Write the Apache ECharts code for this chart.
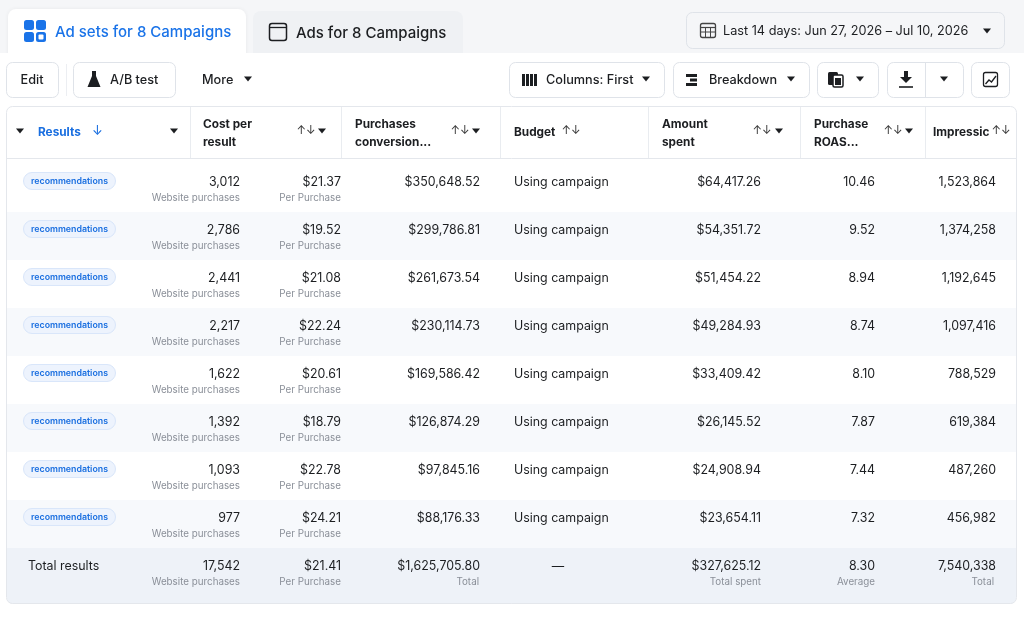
<!DOCTYPE html>
<html><head><meta charset="utf-8">
<script src="https://cdn.jsdelivr.net/npm/echarts@6/dist/echarts.min.js"></script>
<style>html,body{margin:0;padding:0;background:#fff}#c{width:1024px;height:617px}</style>
</head><body><div id="c"></div>
<script>
// ---- data ----
const rowLabels = ['recommendations','recommendations','recommendations','recommendations','recommendations','recommendations','recommendations','recommendations'];
const results = [3012, 2786, 2441, 2217, 1622, 1392, 1093, 977];
const costPerResult = [21.37, 19.52, 21.08, 22.24, 20.61, 18.79, 22.78, 24.21];
const purchasesValue = [350648.52, 299786.81, 261673.54, 230114.73, 169586.42, 126874.29, 97845.16, 88176.33];
const budgetText = ['Using campaign','Using campaign','Using campaign','Using campaign','Using campaign','Using campaign','Using campaign','Using campaign'];
const amountSpent = [64417.26, 54351.72, 51454.22, 49284.93, 33409.42, 26145.52, 24908.94, 23654.11];
const purchaseRoas = [10.46, 9.52, 8.94, 8.74, 8.10, 7.87, 7.44, 7.32];
const impressions = [1523864, 1374258, 1192645, 1097416, 788529, 619384, 487260, 456982];
const totalRow = {label:'Total results', results:17542, cost:21.41, purchases:1625705.80, budget:'—', amount:327625.12, roas:8.30, impressions:7540338};
const headers = [['Results'],['Cost per','result'],['Purchases','conversion...'],['Budget'],['Amount','spent'],['Purchase','ROAS...'],['Impressic']];
const subLabels = {results:'Website purchases', cost:'Per Purchase', purchases:'Total', amount:'Total spent', roas:'Average', impressions:'Total'};

// ---- helpers ----
const FONT = 'Inter, "Noto Sans", sans-serif';
const DARK = '#1c1e21', GREY = '#8a8f98', BLUE = '#1a6fe0', BORDER = '#dfe3e9';
const fmtInt = v => v.toLocaleString('en-US');
const fmtMoney = v => '$' + v.toLocaleString('en-US',{minimumFractionDigits:2, maximumFractionDigits:2});
const fmt2 = v => v.toFixed(2);
function T(text, x, y, o){ o=o||{}; return {type:'text', z:o.z||10, style:{text, x, y, fill:o.c||DARK, font:(o.w||400)+' '+(o.s||13)+'px '+FONT, align:o.a||'left', verticalAlign:'middle'}}; }
function R(x,y,w,h,o){ o=o||{}; return {type:'rect', z:o.z||1, shape:{x,y,width:w,height:h,r:o.r||0}, style:{fill:o.fill||'none', stroke:o.stroke||null, lineWidth:o.lw||1, shadowBlur:o.sb||0, shadowColor:o.sc||'transparent', shadowOffsetY:o.sy||0}}; }
function tri(cx, cy, c){ return {type:'polygon', z:10, shape:{points:[[cx-4,cy-2.5],[cx+4,cy-2.5],[cx,cy+2.5]]}, style:{fill:c||DARK}}; }
function L(x1,y1,x2,y2,c,lw,z){ return {type:'line', z:z||3, shape:{x1,y1,x2,y2}, style:{stroke:c||BORDER, lineWidth:lw||1}}; }

const g = [];
// page top background
g.push(R(0,0,1024,53,{fill:'#f5f6f8',z:0}));
// tabs
g.push(R(8,9,238,50,{fill:'#ffffff',r:[8,8,0,0],z:1,sb:4,sc:'rgba(0,0,0,0.06)'}));
g.push(R(253,11,210,45,{fill:'#eff1f4',r:[8,8,0,0],z:1}));
g.push(R(0,53,1024,564,{fill:'#ffffff',z:2}));
// ad sets icon
[[24,20],[36,20],[24,32],[36,32]].forEach(p=>g.push(R(p[0],p[1],10,10,{fill:'#1a73e8',r:2.5,z:5})));
g.push(R(38.5,34.5,5,5,{fill:'#ffffff',r:1,z:6}));
g.push(T('Ad sets for 8 Campaigns',55,32,{c:'#1a73e8',s:15,w:500}));
// ads window icon
g.push(R(269.5,23.5,17,17,{stroke:DARK,lw:1.5,r:2.5,z:5}));
g.push(L(270,27.5,286,27.5,DARK,1.3,5));
g.push(T('Ads for 8 Campaigns',296,33,{s:15,w:500}));
// date button
g.push(R(686.5,12.5,318,36,{fill:'#f5f6f8',stroke:BORDER,r:6,z:3}));
g.push(R(700.5,23.5,15,14,{stroke:'#444',lw:1.3,r:2,z:5}));
g.push(L(701,27.5,715,27.5,'#444',1.2,5));
g.push(L(701,32,715,32,'#444',1,5));
g.push(L(705.5,28,705.5,37,'#444',1,5));
g.push(L(710.5,28,710.5,37,'#444',1,5));
g.push(T('Last 14 days: Jun 27, 2026 – Jul 10, 2026',723,31,{s:12.7}));
g.push(tri(987,31));
// toolbar
const TB = 12.7;
function btn(x,w){ g.push(R(x+0.5,62.5,w,35,{fill:'#fff',stroke:BORDER,r:6,z:3})); }
btn(6,52); g.push(T('Edit',32,80,{s:TB,a:'center',w:500}));
g.push(L(66.5,64,66.5,96,'#eceef2',1,3));
btn(73,102);
g.push({type:'polygon',z:10,shape:{points:[[92,71],[96,71],[96,76],[100.5,87],[87.5,87],[92,76]]},style:{fill:DARK}});
g.push(T('A/B test',110,80,{s:TB,w:500}));
g.push(T('More',202,80,{s:TB,w:500}));
g.push(tri(248,79));
btn(509,155);
[522,526,530,534].forEach(x=>g.push(R(x,74,3,12,{fill:DARK,z:6})));
g.push(T('Columns: First',546,80,{s:TB,w:500}));
g.push(tri(646,79));
btn(673,136);
g.push(R(686,74,11,3,{fill:DARK,z:6}));
g.push(R(690,78.5,7,3,{fill:DARK,z:6}));
g.push(R(686,83,11,3,{fill:DARK,z:6}));
g.push(T('Breakdown',709,80,{s:TB,w:500}));
g.push(tri(791,79));
btn(817,61);
g.push(R(828,72,10,13,{fill:DARK,r:1.5,z:6}));
g.push(R(833,75,10,12,{fill:'#fff',stroke:DARK,lw:1.5,r:1.5,z:7}));
g.push(R(835,78,6,7,{fill:DARK,z:8}));
g.push(tri(860,79));
btn(887,76);
g.push(L(925.5,63,925.5,97,BORDER,1,4));
g.push(R(904,71,4,7,{fill:DARK,z:6}));
g.push({type:'polygon',z:6,shape:{points:[[900,77],[912,77],[906,83]]},style:{fill:DARK}});
g.push(L(899,87,913,87,DARK,1.6,6));
g.push(tri(944,79));
btn(971,38);
g.push(R(983.5,72.5,14,14,{stroke:DARK,lw:1.3,r:2,z:6}));
g.push({type:'polyline',z:6,shape:{points:[[985.5,84],[989,80],[991.5,82],[996,76]]},style:{stroke:DARK,lineWidth:1.3,fill:'none'}});

// table panel
g.push(R(6.5,106.5,1010,497,{fill:'#fff',z:2,r:6}));
g.push(R(6.5,106.5,1010,497,{stroke:'#e4e7ec',z:20,r:6}));
g.push(L(7,158.5,1016,158.5,'#e4e7ec',1,20));
[190,341,500,648,800,925].forEach(x=>g.push(L(x+0.5,107,x+0.5,158,'#e9ecf0',1,20)));
// headers
const HW = 700, HS = 11.8;
g.push(tri(20,131));
g.push(T(headers[0][0],38,132,{c:BLUE,w:HW,s:HS}));
g.push(T('↓',92,131,{c:BLUE,s:13}));
g.push(tri(174,131));
const hdrCols = [[203,306,322],[355,460,476],[514,571,null],[662,762,779],[814,893,909],[933,1001,null]];
hdrCols.forEach((c,k)=>{
  const h = headers[k+1];
  if(h.length===2){ g.push(T(h[0],c[0],124,{w:HW,s:HS})); g.push(T(h[1],c[0],142,{w:HW,s:HS})); }
  else g.push(T(h[0],c[0],132,{w:HW,s:HS}));
  g.push(T('↑↓',c[1],131,{a:'center',s:11.5,c:'#333'}));
  if(c[2]) g.push(tri(c[2],131));
});

// ---- series ----
const cats = rowLabels.map((r,i)=>'row'+(i+1)).concat(['total']);
const seriesData = cats.map((c,i)=> i<8 ?
  {value:[0,c,results[i],costPerResult[i],purchasesValue[i],amountSpent[i],purchaseRoas[i],impressions[i]]} :
  {value:[0,c,totalRow.results,totalRow.cost,totalRow.purchases,totalRow.amount,totalRow.roas,totalRow.impressions]});

const VS = 12.4, SS = 9.8;
function renderItem(params, api){
  const i = params.dataIndex;
  const yc = api.coord([0, i])[1];
  const h = api.size([0, 1])[1];
  let top = yc - h/2;
  const isTotal = i === 8;
  const ch = [];
  const vy = top + 18, sy = top + 34;
  let bgTop = top, bgH = h;
  if(i===0){ bgTop = 159; bgH = top + h - 159; }
  if(isTotal){ bgH = h + 8; }
  ch.push({type:'rect', shape:{x:7,y:bgTop,width:1009,height:bgH,r:isTotal?[0,0,6,6]:0}, style:{fill: isTotal ? '#eef2f8' : (i%2 ? '#f7f9fc' : '#ffffff')}});
  const txt = (s,x,y,o)=>({type:'text', style:{text:s,x,y,fill:o.c||DARK,font:(o.w||400)+' '+(o.s||VS)+'px '+FONT,align:o.a||'right',verticalAlign:'middle'}});
  if(!isTotal){
    ch.push({type:'rect', shape:{x:23.5,y:vy-9.5,width:92,height:17,r:8.5}, style:{fill:'#edf3fd',stroke:'#d9e6fa',lineWidth:1}});
    ch.push(txt(rowLabels[i],69.5,vy-1,{a:'center',s:8.8,w:600,c:BLUE}));
    ch.push(txt(budgetText[i],514,vy,{a:'left'}));
  } else {
    ch.push(txt(totalRow.label,28,vy,{a:'left'}));
    ch.push(txt(totalRow.budget,558,vy,{a:'center'}));
  }
  ch.push(txt(fmtInt(api.value(2)),240,vy,{}));
  ch.push(txt(subLabels.results,240,sy,{s:SS,c:GREY}));
  ch.push(txt(fmtMoney(api.value(3)),341,vy,{}));
  ch.push(txt(subLabels.cost,341,sy,{s:SS,c:GREY}));
  ch.push(txt(fmtMoney(api.value(4)),480,vy,{}));
  ch.push(txt(fmtMoney(api.value(5)),761,vy,{}));
  ch.push(txt(fmt2(api.value(6)),875,vy,{}));
  ch.push(txt(fmtInt(api.value(7)),996,vy,{}));
  if(isTotal){
    ch.push(txt(subLabels.purchases,479,sy,{s:SS,c:GREY}));
    ch.push(txt(subLabels.amount,761,sy,{s:SS,c:GREY}));
    ch.push(txt(subLabels.roas,875,sy,{s:SS,c:GREY}));
    ch.push(txt(subLabels.impressions,994,sy,{s:SS,c:GREY}));
  }
  return {type:'group', children:ch};
}

const chart = echarts.init(document.getElementById('c'), null, {renderer:'canvas'});
chart.setOption({
  animation:false,
  backgroundColor:'#ffffff',
  textStyle:{fontFamily:FONT},
  grid:{left:6,right:7,top:164,bottom:21},
  xAxis:{type:'value',min:0,max:1,show:false},
  yAxis:{type:'category',data:cats,inverse:true,show:false},
  graphic:{elements:g},
  series:[{type:'custom', z:5, clip:false, renderItem, data:seriesData,
    dimensions:['x','row','results','cost','purchases','amount','roas','impressions'],
    encode:{x:0,y:1}}]
});
</script></body></html>
